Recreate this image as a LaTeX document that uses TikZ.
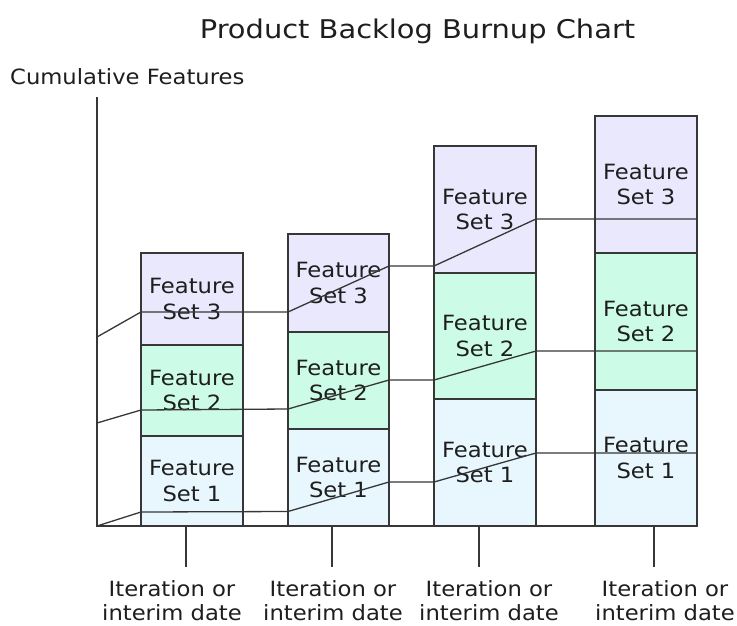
\documentclass[tikz,border=0pt]{standalone}
\usepackage{fontspec}
\setmainfont{DejaVu Sans}[FakeStretch=1.08]
\newfontfamily\titlefont{DejaVu Sans}[FakeStretch=1.12]
\definecolor{setthree}{RGB}{234,232,252}
\definecolor{settwo}{RGB}{204,252,232}
\definecolor{setone}{RGB}{232,247,253}
\definecolor{ink}{RGB}{55,55,55}
\definecolor{txt}{RGB}{30,30,30}
\tikzset{
  seg/.style={draw=ink, line width=1.4pt, minimum width=102pt, inner sep=0pt,
    outer sep=0pt, anchor=south west, align=center, text=txt,
    font=\fontsize{21}{25.5}\selectfont},
  burn/.style={draw=ink, line width=1.3pt, line join=round},
  axisline/.style={draw=ink, line width=1.4pt},
  datelbl/.style={align=center, inner sep=0pt, text=txt,
    font=\fontsize{21}{24}\selectfont},
}
\begin{document}
\begin{tikzpicture}[x=1pt,y=-1pt]
\useasboundingbox[fill=white] (0,0) rectangle (737,625);

% title and axis caption
\node[anchor=base, text=txt, font=\titlefont\fontsize{25.8}{30}\selectfont] (title) at (417.5,38.3) {Product Backlog Burnup Chart};
\node[anchor=base west, inner sep=0pt, text=txt, font=\fontsize{21}{25}\selectfont] (ylabel) at (10,84) {Cumulative Features};

% bar 1
\node[seg, fill=setone, minimum height=90pt] (b1s1) at (141,526) {Feature\\Set 1};
\node[seg, fill=settwo, minimum height=91pt] (b1s2) at (b1s1.north west) {Feature\\Set 2};
\node[seg, fill=setthree, minimum height=92pt] (b1s3) at (b1s2.north west) {Feature\\Set 3};
% bar 2
\node[seg, fill=setone, minimum height=97pt, minimum width=101pt] (b2s1) at (288,526) {Feature\\Set 1};
\node[seg, fill=settwo, minimum height=97pt, minimum width=101pt] (b2s2) at (b2s1.north west) {Feature\\Set 2};
\node[seg, fill=setthree, minimum height=98pt, minimum width=101pt] (b2s3) at (b2s2.north west) {Feature\\Set 3};
% bar 3
\node[seg, fill=setone, minimum height=127pt] (b3s1) at (434,526) {Feature\\Set 1};
\node[seg, fill=settwo, minimum height=126pt] (b3s2) at (b3s1.north west) {Feature\\Set 2};
\node[seg, fill=setthree, minimum height=127pt] (b3s3) at (b3s2.north west) {Feature\\Set 3};
% bar 4
\node[seg, fill=setone, minimum height=136pt] (b4s1) at (595,526) {Feature\\Set 1};
\node[seg, fill=settwo, minimum height=137pt] (b4s2) at (b4s1.north west) {Feature\\Set 2};
\node[seg, fill=setthree, minimum height=137pt] (b4s3) at (b4s2.north west) {Feature\\Set 3};

% axes
\coordinate (origin) at (97,526);
\coordinate (ytop) at (97,97);
\coordinate (xend) at (697,526);
\draw[axisline] (ytop) -- (origin) -- (xend);

% burnup lines, one per feature set
\coordinate (p30) at (97,337);  \coordinate (p31) at (141,312);
\coordinate (p32) at (288,312); \coordinate (p33) at (389,266);
\coordinate (p34) at (434,266); \coordinate (p35) at (536,219);
\coordinate (p36) at (697,219);
\draw[burn] (p30) -- (p31) -- (p32) -- (p33) -- (p34) -- (p35) -- (p36);

\coordinate (p20) at (97,423);  \coordinate (p21) at (141,410);
\coordinate (p22) at (288,409); \coordinate (p23) at (389,380);
\coordinate (p24) at (434,380); \coordinate (p25) at (536,351);
\coordinate (p26) at (697,351);
\draw[burn] (p20) -- (p21) -- (p22) -- (p23) -- (p24) -- (p25) -- (p26);

\coordinate (p11) at (141,512);
\coordinate (p12) at (288,511.5); \coordinate (p13) at (389,482);
\coordinate (p14) at (434,482);   \coordinate (p15) at (536,453);
\coordinate (p16) at (697,453);
\draw[burn] (origin) -- (p11) -- (p12) -- (p13) -- (p14) -- (p15) -- (p16);

% iteration ticks and labels
\foreach \i/\tx/\lx in {1/186/172, 2/332/333, 3/479/489, 4/654/665} {
  \coordinate (t\i a) at (\tx,526);
  \coordinate (t\i b) at (\tx,567);
  \draw[axisline] (t\i a) -- (t\i b);
  \node[datelbl] (d\i) at (\lx,601) {Iteration or\\interim date};
}
\end{tikzpicture}
\end{document}
